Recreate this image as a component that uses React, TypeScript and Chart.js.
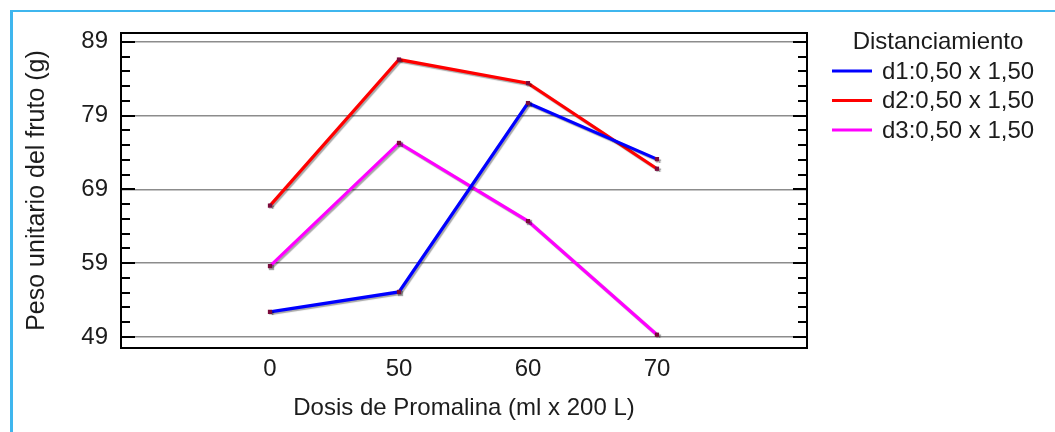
import React, { useEffect, useRef } from "react";
import { Chart, registerables } from "chart.js";

Chart.register(...registerables);

const xLabels = ["0", "50", "60", "70"];
const seriesNames = ["d1:0,50 x 1,50", "d2:0,50 x 1,50", "d3:0,50 x 1,50"];
const seriesColors = ["#0000ff", "#ff0000", "#ff00ff"];
const d1Values = [52.4, 55.1, 80.7, 73.1];
const d2Values = [66.8, 86.6, 83.4, 71.8];
const d3Values = [58.6, 75.3, 64.7, 49.3];
const yTickValues = [49, 51, 53, 55, 57, 59, 61, 63, 65, 67, 69, 71, 73, 75, 77, 79, 81, 83, 85, 87, 89];
const yMajorTicks = [49, 59, 69, 79, 89];
const legendTitle = "Distanciamiento";
const xTitle = "Dosis de Promalina (ml x 200 L)";
const yTitle = "Peso unitario del fruto (g)";

const FONT = "'Liberation Sans', Arial, sans-serif";
const TEXT = "#1c1c1c";

const decorPlugin = {
  id: "decor",
  beforeDraw(chart: any) {
    const ctx = chart.ctx;
    ctx.save();
    ctx.fillStyle = "#3fb6ee";
    ctx.fillRect(10, 10, chart.width, 2);
    ctx.fillRect(10, 10, 3, chart.height);
    ctx.restore();
  },
  beforeDatasetsDraw(chart: any) {
    const ctx = chart.ctx;
    ctx.save();
    ctx.shadowColor = "rgba(0,0,0,0.35)";
    ctx.shadowOffsetX = 1.5;
    ctx.shadowOffsetY = 1.5;
    ctx.shadowBlur = 1;
  },
  afterDatasetsDraw(chart: any) {
    chart.ctx.restore();
  },
  afterDraw(chart: any) {
    const ctx = chart.ctx;
    const a = chart.chartArea;
    const y = chart.scales.y;
    ctx.save();
    ctx.strokeStyle = "#000";
    ctx.lineWidth = 2;
    for (const t of y.ticks) {
      const py = Math.round(y.getPixelForValue(t.value));
      const len = yMajorTicks.includes(t.value) ? 14 : 9;
      ctx.beginPath();
      ctx.moveTo(a.left, py);
      ctx.lineTo(a.left + len, py);
      ctx.moveTo(a.right, py);
      ctx.lineTo(a.right - len, py);
      ctx.stroke();
    }
    ctx.lineWidth = 2;
    ctx.strokeRect(a.left, a.top, a.right - a.left, a.bottom - a.top);
    ctx.fillStyle = TEXT;
    ctx.font = "24px " + FONT;
    ctx.textBaseline = "middle";
    ctx.textAlign = "center";
    ctx.fillText(legendTitle, 938, 42);
    ctx.textAlign = "left";
    chart.data.datasets.forEach((ds: any, i: number) => {
      const ly = 71 + i * 29.5;
      ctx.strokeStyle = ds.borderColor;
      ctx.lineWidth = 3;
      ctx.beginPath();
      ctx.moveTo(832, ly);
      ctx.lineTo(872, ly);
      ctx.stroke();
      ctx.fillStyle = TEXT;
      ctx.fillText(ds.label, 882, ly + 1);
    });
    ctx.restore();
  },
};

export default function App() {
  const ref = useRef<HTMLCanvasElement>(null);
  useEffect(() => {
    document.body.style.margin = "0";
    document.body.style.overflow = "hidden";
    const series = [d1Values, d2Values, d3Values];
    const chart = new Chart(ref.current as HTMLCanvasElement, {
      type: "line",
      data: {
        datasets: series.map((vals, i) => ({
          label: seriesNames[i],
          data: vals.map((v, j) => ({ x: j, y: v })),
          borderColor: seriesColors[i],
          backgroundColor: "#7a0a3c",
          borderWidth: 3.2,
          pointStyle: "rect",
          pointRadius: 3,
          pointBorderWidth: 0,
          pointBackgroundColor: "#7a0a3c",
          tension: 0,
        })),
      },
      options: {
        responsive: false,
        animation: false,
        layout: { padding: { top: 33, right: 248, left: 0, bottom: 0 } },
        plugins: { legend: { display: false }, tooltip: { enabled: false } },
        scales: {
          x: {
            type: "linear",
            min: -1.155,
            max: 4.163,
            afterBuildTicks: (s: any) => {
              s.ticks = xLabels.map((_, i) => ({ value: i }));
            },
            afterFit: (s: any) => {
              s.height = 84;
            },
            ticks: {
              callback: (v: any) => xLabels[v] ?? "",
              font: { family: FONT, size: 24 },
              color: TEXT,
              padding: 7,
              autoSkip: false,
              maxRotation: 0,
            },
            grid: { display: false, drawTicks: false },
            border: { display: false },
            title: {
              display: true,
              text: xTitle,
              font: { family: FONT, size: 24 },
              color: TEXT,
              padding: { top: 0, bottom: 9 },
            },
          },
          y: {
            type: "linear",
            min: 47.5,
            max: 90.2,
            afterBuildTicks: (s: any) => {
              s.ticks = yTickValues.map((v) => ({ value: v }));
            },
            afterFit: (s: any) => {
              s.width = 121;
            },
            ticks: {
              callback: (v: any) => (yMajorTicks.includes(v) ? String(v) : ""),
              font: { family: FONT, size: 24 },
              color: TEXT,
              padding: 13,
              autoSkip: false,
            },
            grid: {
              color: (c: any) => (c.tick && yMajorTicks.includes(c.tick.value) ? "#8c8c8c" : "rgba(0,0,0,0)"),
              lineWidth: 1.5,
              drawTicks: false,
            },
            border: { display: false },
            title: {
              display: true,
              text: yTitle,
              font: { family: FONT, size: 25 },
              color: TEXT,
              padding: { top: 22, bottom: 0 },
            },
          },
        },
      },
      plugins: [decorPlugin],
    } as any);
    return () => chart.destroy();
  }, []);
  return (
    <div style={{ width: 1055, height: 432 }}>
      <canvas ref={ref} width={1055} height={432} />
    </div>
  );
}
